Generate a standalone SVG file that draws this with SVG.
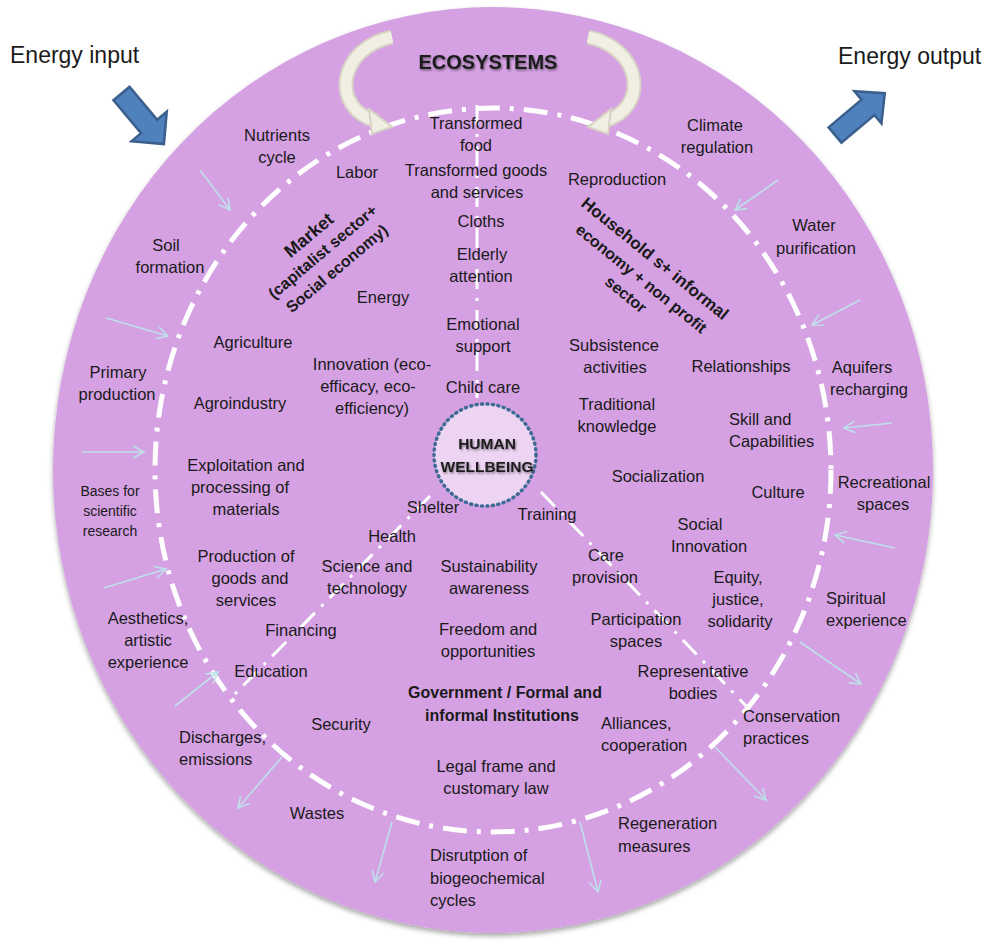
<svg xmlns="http://www.w3.org/2000/svg" width="993" height="943" viewBox="0 0 993 943">
<defs>
<style>
.t{font-family:"Liberation Sans",Arial,sans-serif;font-size:16.5px;fill:#1a1a1a;text-anchor:middle}
.s{text-anchor:start}
.b{font-weight:bold}
.sm{font-size:14px}
.ring{fill:none;stroke:#fff;stroke-width:5;stroke-dasharray:24 10 4 10}
.div{fill:none;stroke:#fff;stroke-width:3;stroke-dasharray:20 9 3 9}
.la{fill:none;stroke:#bfe0ea;stroke-width:1.6;marker-end:url(#ah)}
.blue{fill:#4f81bd;stroke:#3a5f8c;stroke-width:2.5}
.eco{fill:none;stroke:#d6d3c4;stroke-width:15;stroke-linecap:butt}
.eco2{fill:none;stroke:#f1efe4;stroke-width:11;stroke-linecap:butt}
.ecoh{fill:#f1efe4;stroke:#d6d3c4;stroke-width:2}
</style>
<marker id="ah" markerWidth="14" markerHeight="14" refX="12" refY="7" orient="auto" markerUnits="userSpaceOnUse">
<polyline points="1,1 12,7 1,13" fill="none" stroke="#bfe0ea" stroke-width="1.6"/>
</marker>
<filter id="sh" x="-5%" y="-5%" width="110%" height="112%">
<feDropShadow dx="0" dy="3" stdDeviation="2.5" flood-color="#000" flood-opacity="0.35"/>
</filter>
<filter id="ts" x="-10%" y="-30%" width="120%" height="160%">
<feDropShadow dx="1" dy="1.5" stdDeviation="1" flood-color="#000" flood-opacity="0.45"/>
</filter>
</defs>
<rect width="993" height="943" fill="#fff"/>

<g id="main-circle">
<ellipse cx="493" cy="470" rx="440" ry="463" fill="#d5a1e3" filter="url(#sh)"/>
</g>

<g id="connectors">
<ellipse class="ring" cx="493" cy="470" rx="338" ry="362"/>
<line class="div" x1="477" y1="105" x2="477" y2="398"/>
<line class="div" x1="430" y1="496" x2="232" y2="697"/>
<line class="div" x1="541" y1="492" x2="748" y2="708"/>
<line class="la" x1="200" y1="170" x2="230" y2="210"/>
<line class="la" x1="106" y1="318" x2="168" y2="336"/>
<line class="la" x1="82" y1="452" x2="144" y2="452"/>
<line class="la" x1="104" y1="588" x2="166" y2="569"/>
<line class="la" x1="175" y1="706" x2="218" y2="672"/>
<line class="la" x1="282" y1="757" x2="238" y2="808"/>
<line class="la" x1="392" y1="822" x2="375" y2="882"/>
<line class="la" x1="580" y1="822" x2="598" y2="892"/>
<line class="la" x1="715" y1="747" x2="766" y2="800"/>
<line class="la" x1="800" y1="642" x2="861" y2="684"/>
<line class="la" x1="895" y1="548" x2="835" y2="535"/>
<line class="la" x1="892" y1="423" x2="844" y2="428"/>
<line class="la" x1="860" y1="300" x2="812" y2="325"/>
<line class="la" x1="778" y1="180" x2="735" y2="210"/>
</g>

<g id="eco-arrows">
<path class="eco" d="M392,37 C338,48 330,108 376,121"/>
<path class="eco2" d="M392,37 C338,48 330,108 376,121"/>
<polygon class="ecoh" points="369,109 392,127 372,134"/>
<path class="eco" d="M588,37 C642,48 650,108 604,121"/>
<path class="eco2" d="M588,37 C642,48 650,108 604,121"/>
<polygon class="ecoh" points="611,109 588,127 608,134"/>
</g>

<g id="energy-input">
<text class="t s" x="10" y="63" style="font-size:23px">Energy input</text>
<polygon class="blue" transform="translate(121.5,93.5) rotate(50)" points="0,-10.5 43,-10.5 43,-23 66,0 43,23 43,10.5 0,10.5"/>
</g>
<g id="energy-output">
<text class="t s" x="838" y="64" style="font-size:23px">Energy output</text>
<polygon class="blue" transform="translate(835,135) rotate(-40)" points="0,-10 43,-10 43,-21 65,0 43,21 43,10 0,10"/>
</g>

<g id="ecosystems"><text class="t b" x="488" y="69" style="font-size:20px" filter="url(#ts)">ECOSYSTEMS</text></g>

<g id="human-wellbeing">
<circle cx="485" cy="455" r="51" fill="#ecd4f2" stroke="#3e6b95" stroke-width="3.5" stroke-dasharray="1 4.5" stroke-linecap="round"/>
<text class="t b" x="487" y="449" style="font-size:15.5px" filter="url(#ts)">HUMAN</text>
<text class="t b" x="487" y="472" style="font-size:15.5px" filter="url(#ts)">WELLBEING</text>
</g>

<g id="market" transform="translate(323,252) rotate(-40)">
<text class="t b" x="0" y="-16" style="font-size:18px">Market</text>
<text class="t b" x="0" y="5" style="font-size:16px">(capitalist sector+</text>
<text class="t b" x="0" y="27" style="font-size:16px">Social economy)</text>
</g>
<g id="household" transform="translate(641,279) rotate(39)">
<text class="t b" x="-2" y="-19" style="font-size:17px">Household s+ informal</text>
<text class="t b" x="0" y="5" style="font-size:16px">economy +  non  profit</text>
<text class="t b" x="-2" y="27" style="font-size:16px">sector</text>
</g>
<g id="government">
<text class="t b" x="505" y="698" style="font-size:16px">Government / Formal and</text>
<text class="t b" x="502" y="721" style="font-size:16px">informal Institutions</text>
</g>

<g id="n-nutrients"><text class="t" x="277" y="141">Nutrients</text><text class="t" x="277" y="163">cycle</text></g>
<g id="n-labor"><text class="t" x="357" y="178">Labor</text></g>
<g id="n-food"><text class="t" x="476" y="129">Transformed</text><text class="t" x="476" y="151">food</text></g>
<g id="n-goods"><text class="t" x="476" y="176">Transformed goods</text><text class="t" x="477" y="198">and services</text></g>
<g id="n-cloths"><text class="t" x="481" y="227">Cloths</text></g>
<g id="n-elderly"><text class="t" x="482" y="260">Elderly</text><text class="t" x="481" y="282">attention</text></g>
<g id="n-reproduction"><text class="t" x="617" y="185">Reproduction</text></g>
<g id="n-climate"><text class="t" x="715" y="131">Climate</text><text class="t" x="717" y="153">regulation</text></g>
<g id="n-water"><text class="t" x="814" y="231">Water</text><text class="t" x="816" y="254">purification</text></g>
<g id="n-soil"><text class="t" x="166" y="251">Soil</text><text class="t" x="170" y="273">formation</text></g>
<g id="n-agriculture"><text class="t" x="253" y="348">Agriculture</text></g>
<g id="n-energy"><text class="t" x="383" y="303">Energy</text></g>
<g id="n-emotional"><text class="t" x="483" y="330">Emotional</text><text class="t" x="483" y="352">support</text></g>
<g id="n-innovation"><text class="t" x="372" y="370">Innovation (eco-</text><text class="t" x="368" y="392">efficacy, eco-</text><text class="t" x="372" y="414">efficiency)</text></g>
<g id="n-childcare"><text class="t" x="483" y="393">Child care</text></g>
<g id="n-subsistence"><text class="t" x="614" y="351">Subsistence</text><text class="t" x="615" y="373">activities</text></g>
<g id="n-relationships"><text class="t" x="741" y="372">Relationships</text></g>
<g id="n-primary"><text class="t" x="118" y="378">Primary</text><text class="t" x="117" y="400">production</text></g>
<g id="n-agroindustry"><text class="t" x="240" y="409">Agroindustry</text></g>
<g id="n-traditional"><text class="t" x="617" y="410">Traditional</text><text class="t" x="617" y="432">knowledge</text></g>
<g id="n-skill"><text class="t s" x="729" y="425">Skill and</text><text class="t s" x="729" y="447">Capabilities</text></g>
<g id="n-aquifers"><text class="t" x="862" y="373">Aquifers</text><text class="t" x="869" y="395">recharging</text></g>
<g id="n-exploitation"><text class="t" x="246" y="471">Exploitation  and</text><text class="t" x="240" y="493">processing of</text><text class="t" x="246" y="515">materials</text></g>
<g id="n-bases"><text class="t sm" x="110" y="496">Bases for</text><text class="t sm" x="110" y="516">scientific</text><text class="t sm" x="110" y="536">research</text></g>
<g id="n-socialization"><text class="t" x="658" y="482">Socialization</text></g>
<g id="n-culture"><text class="t" x="778" y="498">Culture</text></g>
<g id="n-recreational"><text class="t" x="884" y="488">Recreational</text><text class="t" x="883" y="510">spaces</text></g>
<g id="n-shelter"><text class="t" x="433" y="513">Shelter</text></g>
<g id="n-training"><text class="t" x="547" y="520">Training</text></g>
<g id="n-health"><text class="t" x="392" y="542">Health</text></g>
<g id="n-socialinnovation"><text class="t" x="700" y="530">Social</text><text class="t" x="709" y="552">Innovation</text></g>
<g id="n-production"><text class="t" x="246" y="562">Production of</text><text class="t" x="250" y="584">goods and</text><text class="t" x="246" y="606">services</text></g>
<g id="n-science"><text class="t" x="367" y="572">Science and</text><text class="t" x="367" y="594">technology</text></g>
<g id="n-sustainability"><text class="t" x="489" y="572">Sustainability</text><text class="t" x="489" y="594">awareness</text></g>
<g id="n-care"><text class="t" x="606" y="561">Care</text><text class="t" x="605" y="583">provision</text></g>
<g id="n-equity"><text class="t" x="738" y="583">Equity,</text><text class="t" x="738" y="605">justice,</text><text class="t" x="740" y="627">solidarity</text></g>
<g id="n-spiritual"><text class="t s" x="826" y="604">Spiritual</text><text class="t s" x="826" y="626">experience</text></g>
<g id="n-aesthetics"><text class="t" x="148" y="624">Aesthetics,</text><text class="t" x="148" y="646">artistic</text><text class="t" x="148" y="668">experience</text></g>
<g id="n-financing"><text class="t" x="301" y="636">Financing</text></g>
<g id="n-freedom"><text class="t" x="488" y="635">Freedom and</text><text class="t" x="488" y="657">opportunities</text></g>
<g id="n-participation"><text class="t" x="636" y="625">Participation</text><text class="t" x="636" y="647">spaces</text></g>
<g id="n-representative"><text class="t" x="693" y="677">Representative</text><text class="t" x="693" y="699">bodies</text></g>
<g id="n-education"><text class="t" x="271" y="677">Education</text></g>
<g id="n-security"><text class="t" x="341" y="730">Security</text></g>
<g id="n-alliances"><text class="t s" x="601" y="729">Alliances,</text><text class="t s" x="601" y="751">cooperation</text></g>
<g id="n-conservation"><text class="t s" x="743" y="722">Conservation</text><text class="t s" x="743" y="744">practices</text></g>
<g id="n-discharges"><text class="t s" x="179" y="743">Discharges,</text><text class="t s" x="179" y="765">emissions</text></g>
<g id="n-legal"><text class="t" x="496" y="772">Legal frame and</text><text class="t" x="496" y="794">customary law</text></g>
<g id="n-wastes"><text class="t" x="317" y="819">Wastes</text></g>
<g id="n-regeneration"><text class="t s" x="618" y="829">Regeneration</text><text class="t s" x="618" y="852">measures</text></g>
<g id="n-disruption"><text class="t s" x="430" y="861">Disrutption of</text><text class="t s" x="430" y="884">biogeochemical</text><text class="t s" x="430" y="906">cycles</text></g>
</svg>
